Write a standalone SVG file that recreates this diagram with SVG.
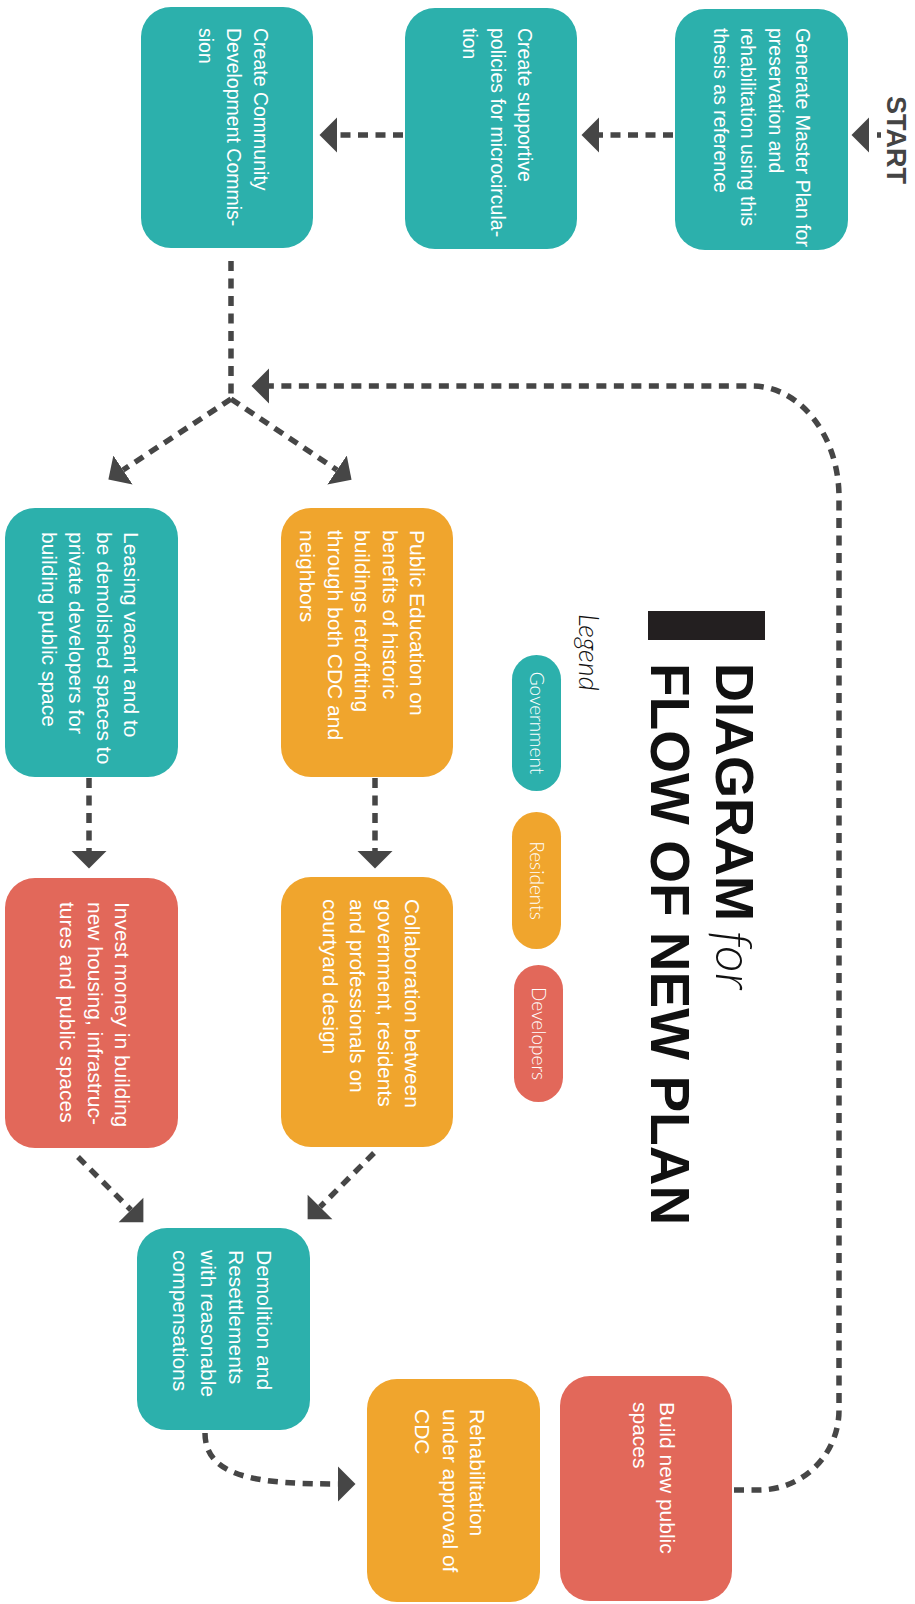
<svg xmlns="http://www.w3.org/2000/svg" width="915" height="1604" viewBox="0 0 915 1604">
<style>
.gov{fill:#2cb0ac}
.res{fill:#f0a52d}
.dev{fill:#e2685a}
.t{font-family:"Liberation Sans",Arial,sans-serif;font-size:21px;fill:#ffffff}
.ts{font-family:"Liberation Sans",Arial,sans-serif;font-size:19.5px;fill:#ffffff}
.c{fill:none;stroke:#464646;stroke-width:5.5;stroke-dasharray:10 7.5}
.title{font-family:"Liberation Sans",Arial,sans-serif;font-weight:700;font-size:54px;fill:#111111}
.it{font-family:Lato,"Open Sans",sans-serif;font-style:italic;font-weight:300;fill:#111111}
.pill{font-family:Lato,"Open Sans",sans-serif;font-weight:300;font-size:19px;fill:#ffffff}
</style>
<defs>
<marker id="ah" markerUnits="userSpaceOnUse" markerWidth="20" markerHeight="38" viewBox="0 -19 20 38" refX="0" refY="0" orient="auto">
<path d="M0,-17.5 L17.5,0 L0,17.5 Z" fill="#464646"/>
</marker>
</defs>

<g id="connectors">
<path class="c" d="M881,135 H869" style="stroke-dasharray:4 20" marker-end="url(#ah)"/>
<path class="c" d="M673,135 H599" marker-end="url(#ah)"/>
<path class="c" d="M403,135 H337" marker-end="url(#ah)"/>
<path class="c" d="M231,261 V399"/>
<path class="c" d="M231,399 L123,470" marker-end="url(#ah)"/>
<path class="c" d="M231,399 L337,470" marker-end="url(#ah)"/>
<path class="c" d="M734,1490 H760 A80,80 0 0 0 839,1410 V497 A87,111 0 0 0 752,386 H269" marker-end="url(#ah)"/>
<path class="c" d="M89,778 V851" marker-end="url(#ah)"/>
<path class="c" d="M375,778 V851" marker-end="url(#ah)"/>
<path class="c" d="M374,1153 L320,1207" marker-end="url(#ah)"/>
<path class="c" d="M78,1157 L131,1210" marker-end="url(#ah)"/>
<path class="c" d="M205,1433 C205,1478 260,1484 338,1484" marker-end="url(#ah)"/>
</g>

<g id="start">
<text transform="translate(887,96) rotate(90)" style="font-family:'Liberation Sans',Arial,sans-serif;font-weight:700;font-size:27px;fill:#444444">START</text>
</g>

<g id="node-master-plan">
<rect class="gov" x="675" y="9" width="173" height="241" rx="30"/>
<text class="ts" transform="translate(796,28) rotate(90)"><tspan x="0" y="0">Generate Master Plan for</tspan><tspan x="0" dy="27.5">preservation and</tspan><tspan x="0" dy="27.5">rehabilitation using this</tspan><tspan x="0" dy="27.5">thesis as reference</tspan></text>
</g>

<g id="node-policies">
<rect class="gov" x="405" y="8" width="172" height="241" rx="30"/>
<text class="ts" transform="translate(518,28) rotate(90)"><tspan x="0" y="0">Create supportive</tspan><tspan x="0" dy="27.5">policies for microcircula-</tspan><tspan x="0" dy="27.5">tion</tspan></text>
</g>

<g id="node-cdc">
<rect class="gov" x="141" y="7" width="172" height="241" rx="30"/>
<text class="ts" transform="translate(254,28) rotate(90)"><tspan x="0" y="0">Create Community</tspan><tspan x="0" dy="27.5">Development Commis-</tspan><tspan x="0" dy="27.5">sion</tspan></text>
</g>

<g id="node-public-education">
<rect class="res" x="281" y="508" width="172" height="269" rx="30"/>
<text class="t" transform="translate(410,530) rotate(90)"><tspan x="0" y="0">Public Education on</tspan><tspan x="0" dy="27.5">benefits of historic</tspan><tspan x="0" dy="27.5">buildings retrofitting</tspan><tspan x="0" dy="27.5">through both CDC and</tspan><tspan x="0" dy="27.5">neighbors</tspan></text>
</g>

<g id="node-leasing">
<rect class="gov" x="5" y="508" width="173" height="269" rx="30"/>
<text class="t" transform="translate(124,532) rotate(90)"><tspan x="0" y="0">Leasing vacant and to</tspan><tspan x="0" dy="27.3">be demolished spaces to</tspan><tspan x="0" dy="27.3">private developers for</tspan><tspan x="0" dy="27.3">building public space</tspan></text>
</g>

<g id="node-collaboration">
<rect class="res" x="281" y="877" width="172" height="270" rx="30"/>
<text class="t" transform="translate(405,899) rotate(90)"><tspan x="0" y="0">Collaboration between</tspan><tspan x="0" dy="27.5">government, residents</tspan><tspan x="0" dy="27.5">and professionals on</tspan><tspan x="0" dy="27.5">courtyard design</tspan></text>
</g>

<g id="node-invest">
<rect class="dev" x="5" y="878" width="173" height="270" rx="30"/>
<text class="t" transform="translate(115,902) rotate(90)"><tspan x="0" y="0">Invest money in building</tspan><tspan x="0" dy="27.5">new housing, infrastruc-</tspan><tspan x="0" dy="27.5">tures and public spaces</tspan></text>
</g>

<g id="node-demolition">
<rect class="gov" x="137" y="1228" width="173" height="202" rx="30"/>
<text class="t" transform="translate(257,1250) rotate(90)"><tspan x="0" y="0">Demolition and</tspan><tspan x="0" dy="28">Resettlements</tspan><tspan x="0" dy="28">with reasonable</tspan><tspan x="0" dy="28">compensations</tspan></text>
</g>

<g id="node-rehabilitation">
<rect class="res" x="367" y="1379" width="173" height="223" rx="30"/>
<text class="t" transform="translate(470,1409) rotate(90)"><tspan x="0" y="0">Rehabilitation</tspan><tspan x="0" dy="27.5">under approval of</tspan><tspan x="0" dy="27.5">CDC</tspan></text>
</g>

<g id="node-build">
<rect class="dev" x="560" y="1376" width="172" height="225" rx="30"/>
<text class="t" transform="translate(660,1402) rotate(90)"><tspan x="0" y="0">Build new public</tspan><tspan x="0" dy="27.5">spaces</tspan></text>
</g>

<g id="title">
<rect x="648" y="611" width="117" height="29" fill="#231f20"/>
<text class="title" transform="translate(716,663) rotate(90)">DIAGRAM</text>
<text class="it" transform="translate(716,931) rotate(90)" style="font-size:52px">for</text>
<text class="title" transform="translate(651,663) rotate(90)" style="font-size:55px">FLOW OF NEW PLAN</text>
</g>

<g id="legend">
<text class="it" transform="translate(579,614) rotate(90)" style="font-size:27px">Legend</text>
<rect class="gov" x="512" y="655" width="49" height="136" rx="24.5"/>
<text class="pill" transform="translate(530,723) rotate(90)" text-anchor="middle">Government</text>
<rect class="res" x="512" y="812" width="49" height="137" rx="24.5"/>
<text class="pill" transform="translate(530,880.5) rotate(90)" text-anchor="middle">Residents</text>
<rect class="dev" x="514" y="965" width="49" height="137" rx="24.5"/>
<text class="pill" transform="translate(532,1033.5) rotate(90)" text-anchor="middle">Developers</text>
</g>
</svg>
